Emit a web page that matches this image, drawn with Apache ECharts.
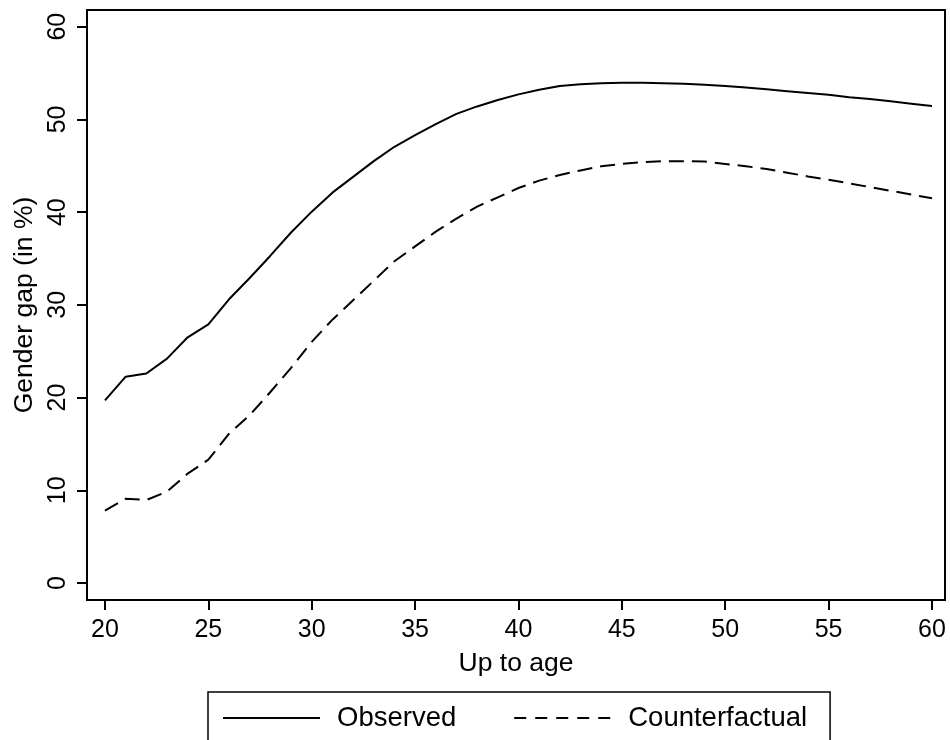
<!DOCTYPE html>
<html>
<head>
<meta charset="utf-8">
<script src="https://cdn.jsdelivr.net/npm/echarts@6/dist/echarts.min.js"></script>
<style>
  html, body { margin: 0; padding: 0; background: #ffffff; }
  #chart { width: 950px; height: 740px; }
</style>
</head>
<body>
<div id="chart"></div>
<script>
// Age at which the cumulative gap is measured
const ages = [20, 21, 22, 23, 24, 25, 26, 27, 28, 29, 30,
              31, 32, 33, 34, 35, 36, 37, 38, 39, 40,
              41, 42, 43, 44, 45, 46, 47, 48, 49, 50,
              51, 52, 53, 54, 55, 56, 57, 58, 59, 60];

// Gender gap (in %), observed earnings
const observed = [19.7, 22.25, 22.6, 24.2, 26.5, 27.9, 30.6, 32.9, 35.3, 37.8, 40.05,
                  42.1, 43.8, 45.5, 47.05, 48.3, 49.5, 50.6, 51.4, 52.1, 52.7,
                  53.2, 53.6, 53.8, 53.9, 53.95, 53.95, 53.9, 53.85, 53.75, 53.6,
                  53.45, 53.25, 53.05, 52.85, 52.65, 52.4, 52.2, 51.95, 51.7, 51.45];

// Gender gap (in %), counterfactual scenario
const counterfactual = [7.8, 9.1, 8.95, 9.85, 11.8, 13.3, 16.1, 18.1, 20.6, 23.2, 26.0,
                        28.4, 30.5, 32.6, 34.7, 36.3, 37.9, 39.3, 40.6, 41.6, 42.6,
                        43.4, 44.0, 44.5, 44.95, 45.2, 45.4, 45.5, 45.5, 45.45, 45.2,
                        44.95, 44.65, 44.25, 43.85, 43.5, 43.1, 42.7, 42.3, 41.9, 41.5];

const xTicks = [20, 25, 30, 35, 40, 45, 50, 55, 60];
const yTicks = [0, 10, 20, 30, 40, 50, 60];

const FONT = 'Liberation Sans, Arial, Helvetica, sans-serif';

const chart = echarts.init(document.getElementById('chart'), null, { renderer: 'canvas' });

const axisCommon = {
  type: 'value',
  splitLine: { show: false },
  axisLine: { show: true, onZero: false, lineStyle: { color: '#000', width: 2 } },
  axisTick: { show: true, inside: false, length: 10, lineStyle: { color: '#000', width: 2 } },
  axisLabel: { color: '#000', fontFamily: FONT, fontSize: 25 },
  nameTextStyle: { color: '#000', fontFamily: FONT, fontSize: 26.5 }
};

chart.setOption({
  backgroundColor: '#ffffff',
  animation: false,
  grid: {
    left: 87, right: 5, top: 10, bottom: 140,
    show: true, borderColor: '#000', borderWidth: 2, backgroundColor: '#ffffff'
  },
  xAxis: Object.assign({}, axisCommon, {
    min: 19.13, max: 60.63,
    name: 'Up to age', nameLocation: 'middle', nameGap: 50,
    axisTick: Object.assign({}, axisCommon.axisTick, { customValues: xTicks }),
    axisLabel: Object.assign({}, axisCommon.axisLabel, { customValues: xTicks, margin: 18 })
  }),
  yAxis: Object.assign({}, axisCommon, {
    min: -1.833, max: 61.8,
    name: 'Gender gap (in %)', nameLocation: 'middle', nameRotate: 90, nameGap: 45,
    axisTick: Object.assign({}, axisCommon.axisTick, { customValues: yTicks }),
    axisLabel: Object.assign({}, axisCommon.axisLabel, { customValues: yTicks, rotate: 90, margin: 16 })
  }),
  legend: {
    left: 208, top: 692,
    orient: 'horizontal',
    backgroundColor: '#ffffff',
    borderColor: '#000', borderWidth: 1.5,
    padding: [12, 23, 20, 14],
    itemWidth: 97, itemHeight: 14, itemGap: 57,
    // line-only keys: hide the marker drawn in the middle of each key
    itemStyle: { opacity: 0 },
    textStyle: { color: '#000', fontFamily: FONT, fontSize: 27.5, padding: [0, 0, 0, 12] },
    data: [
      { name: 'Observed' },
      { name: 'Counterfactual', lineStyle: { type: [12, 9] } }
    ]
  },
  series: [
    {
      name: 'Observed', type: 'line', symbol: 'none', smooth: false,
      data: ages.map((a, i) => [a, observed[i]]),
      lineStyle: { color: '#000', width: 2, type: 'solid' },
      itemStyle: { color: '#000' }
    },
    {
      name: 'Counterfactual', type: 'line', symbol: 'none', smooth: false,
      data: ages.map((a, i) => [a, counterfactual[i]]),
      lineStyle: { color: '#000', width: 2, type: [15, 8] },
      itemStyle: { color: '#000' }
    }
  ]
});
</script>
</body>
</html>
